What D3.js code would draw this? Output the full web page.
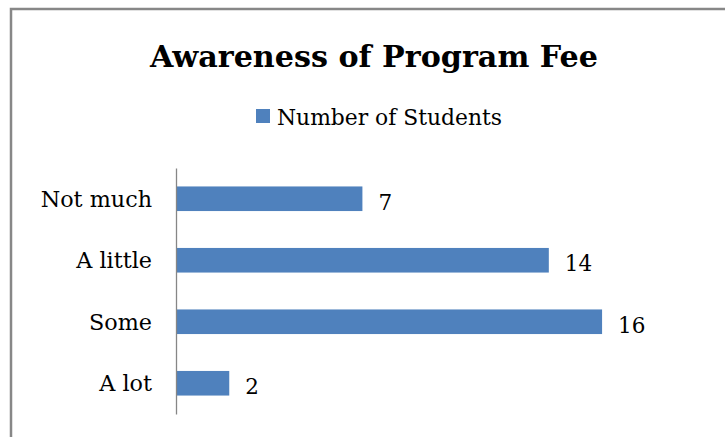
<!DOCTYPE html>
<html><head><meta charset="utf-8">
<script src="https://cdn.jsdelivr.net/npm/d3@7"></script>
<style>html,body{margin:0;padding:0;background:#fff;overflow:hidden}</style>
</head><body>
<svg id="c" width="725" height="437"></svg>
<script>
const title = "Awareness of Program Fee";
const seriesName = "Number of Students";
const categories = ["Not much", "A little", "Some", "A lot"];
const values = [7, 14, 16, 2];

const svg = d3.select("#c");
const font = "'DejaVu Serif', serif";

// outer border
svg.append("rect").attr("x", 11).attr("y", 9).attr("width", 730).attr("height", 440)
  .attr("fill", "#fff").attr("stroke", "#878787").attr("stroke-width", 2.5);

const x = d3.scaleLinear().domain([0, 18]).range([176, 176 + 18 * 26.63]);
const y = d3.scaleBand().domain(categories).range([168, 414]).paddingInner(0.6).paddingOuter(0.3);

// bars
svg.selectAll("rect.bar").data(values).join("rect").attr("class", "bar")
  .attr("x", x(0)).attr("y", (d, i) => y(categories[i]))
  .attr("width", d => x(d) - x(0)).attr("height", y.bandwidth())
  .attr("fill", "#4f81bd");

// axis
const axis = d3.axisLeft(y).tickSize(0).tickPadding(24);
const g = svg.append("g").attr("transform", `translate(${x(0)},0)`).call(axis);
g.select(".domain").attr("stroke", "#868686").attr("stroke-width", 1.3);
g.selectAll("text").attr("font-family", font).attr("font-size", 22.3).attr("fill", "#000")
  .attr("dy", "0.36em");

// value labels
svg.selectAll("text.val").data(values).join("text").attr("class", "val")
  .attr("x", d => x(d) + 16).attr("y", (d, i) => y(categories[i]) + y.bandwidth() / 2 + 11)
  .attr("font-family", font).attr("font-size", 21.5).attr("fill", "#000")
  .text(d => d);

// title
svg.append("text").attr("x", 374).attr("y", 67).attr("text-anchor", "middle")
  .attr("font-family", font).attr("font-weight", "bold").attr("font-size", 30.5)
  .attr("textLength", 448).attr("lengthAdjust", "spacingAndGlyphs")
  .text(title);

// legend
svg.append("rect").attr("x", 256).attr("y", 109).attr("width", 14).attr("height", 14).attr("fill", "#4f81bd");
svg.append("text").attr("x", 277).attr("y", 125)
  .attr("font-family", font).attr("font-size", 21.5).attr("fill", "#000")
  .attr("textLength", 225).attr("lengthAdjust", "spacingAndGlyphs")
  .text(seriesName);
</script>
</body></html>
